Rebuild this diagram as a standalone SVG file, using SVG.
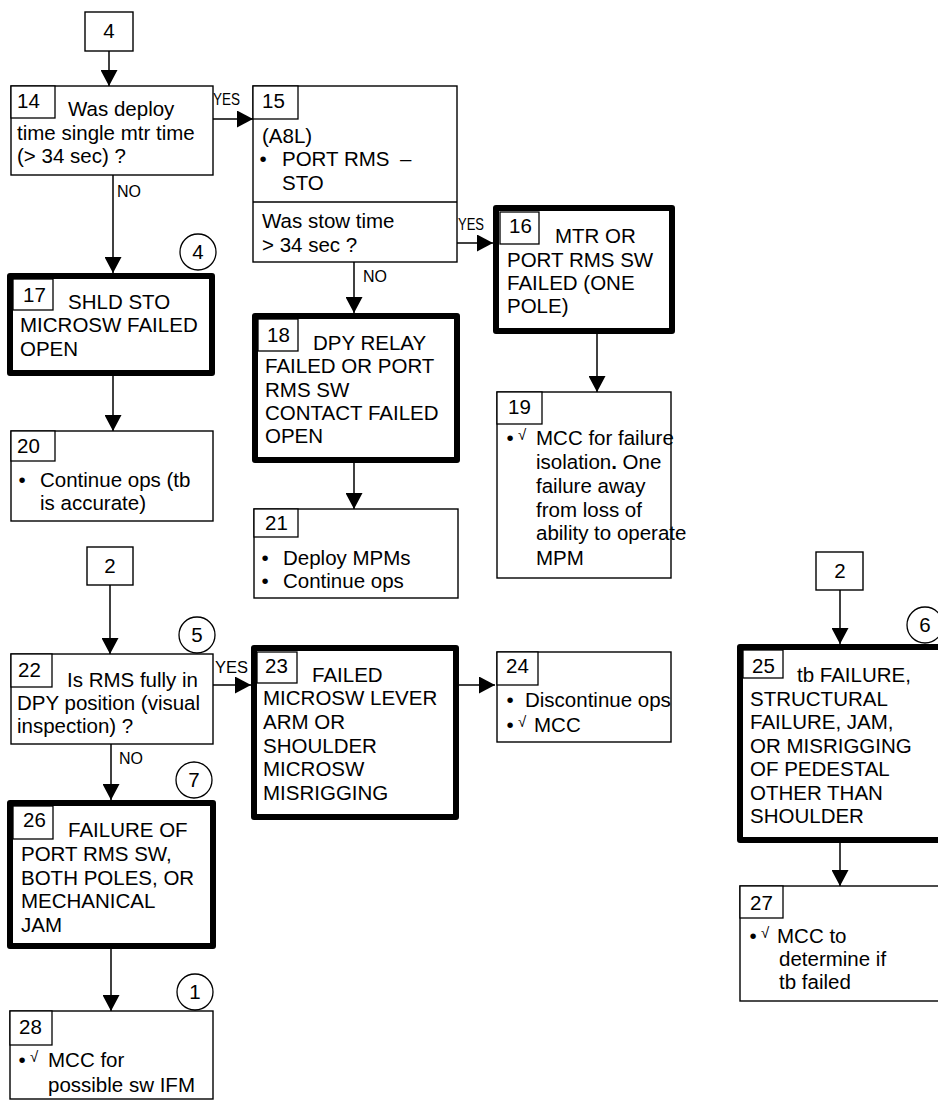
<svg xmlns="http://www.w3.org/2000/svg" width="938" height="1100" viewBox="0 0 938 1100">
<defs>
<marker id="ah" markerUnits="userSpaceOnUse" markerWidth="16" markerHeight="17" refX="16" refY="8.5" orient="auto">
<path d="M0,0 L16,8.5 L0,17 z" fill="#000"/>
</marker>
<style>
text{font-family:"Liberation Sans",Arial,sans-serif;font-size:20.5px;fill:#000}
.lbl{font-size:16px}
.chk{font-size:15px}
.thin{fill:#fff;stroke:#000;stroke-width:1.4}
.thick{fill:#fff;stroke:#000;stroke-width:6;stroke-linejoin:round}
.num{fill:#fff;stroke:#000;stroke-width:1.3}
.circ{fill:#fff;stroke:#000;stroke-width:1.3}
.con{stroke:#000;stroke-width:1.5;fill:none;marker-end:url(#ah)}
</style>
</defs>
<rect width="938" height="1100" fill="#fff"/>

<g id="connectors">
<line class="con" x1="109" y1="51" x2="109" y2="86"/>
<line class="con" x1="213" y1="119" x2="253" y2="119"/>
<line class="con" x1="113" y1="175" x2="113" y2="273"/>
<line class="con" x1="457" y1="243" x2="493" y2="243"/>
<line class="con" x1="354" y1="262" x2="354" y2="313"/>
<line class="con" x1="597" y1="334" x2="597" y2="392"/>
<line class="con" x1="113" y1="376" x2="113" y2="431"/>
<line class="con" x1="354" y1="463" x2="354" y2="509"/>
<line class="con" x1="110" y1="585" x2="110" y2="654"/>
<line class="con" x1="213" y1="685" x2="251" y2="685"/>
<line class="con" x1="459" y1="685" x2="495" y2="685"/>
<line class="con" x1="111" y1="744" x2="111" y2="800"/>
<line class="con" x1="111" y1="949" x2="111" y2="1011"/>
<line class="con" x1="840" y1="590" x2="840" y2="644"/>
<line class="con" x1="840" y1="843" x2="840" y2="886"/>
<text class="lbl" x="213" y="105" textLength="27" lengthAdjust="spacingAndGlyphs">YES</text>
<text class="lbl" x="117" y="197">NO</text>
<text class="lbl" x="458" y="230" textLength="26" lengthAdjust="spacingAndGlyphs">YES</text>
<text class="lbl" x="363" y="282">NO</text>
<text class="lbl" x="215" y="673" textLength="33" lengthAdjust="spacingAndGlyphs">YES</text>
<text class="lbl" x="119" y="764">NO</text>
</g>

<g id="ref4">
<rect class="thin" x="85" y="12" width="48" height="39"/>
<text x="109" y="38" text-anchor="middle">4</text>
</g>

<g id="n14">
<rect class="thin" x="11" y="86" width="202" height="89"/>
<rect class="num" x="11" y="86" width="44" height="32"/>
<text x="17" y="108">14</text>
<text x="68" y="116">Was deploy</text>
<text x="17" y="140">time single mtr time</text>
<text x="17" y="163">(&gt; 34 sec) ?</text>
</g>

<g id="n15">
<rect class="thin" x="253" y="86" width="204" height="176"/>
<line x1="253" y1="202" x2="457" y2="202" stroke="#000" stroke-width="1.4"/>
<rect class="num" x="253" y="86" width="45" height="33"/>
<text x="262" y="108">15</text>
<text x="262" y="143">(A8L)</text>
<text x="263" y="166" text-anchor="middle">•</text>
<text x="282" y="166">PORT RMS</text>
<text x="400" y="166">–</text>
<text x="282" y="190">STO</text>
<text x="262" y="228">Was stow time</text>
<text x="262" y="252">&gt; 34 sec ?</text>
</g>

<g id="n16">
<rect class="thick" x="496" y="208" width="176" height="123"/>
<rect class="num" x="500" y="212" width="39" height="32"/>
<text x="509" y="233">16</text>
<text x="555" y="243">MTR OR</text>
<text x="507" y="267">PORT RMS SW</text>
<text x="507" y="290">FAILED (ONE</text>
<text x="507" y="313">POLE)</text>
</g>

<g id="c4">
<circle class="circ" cx="198" cy="252" r="18"/>
<text x="198" y="259" text-anchor="middle">4</text>
</g>

<g id="n17">
<rect class="thick" x="10" y="276" width="202" height="97"/>
<rect class="num" x="13" y="279" width="40" height="31"/>
<text x="23" y="302">17</text>
<text x="68" y="309">SHLD STO</text>
<text x="20" y="332">MICROSW FAILED</text>
<text x="20" y="356">OPEN</text>
</g>

<g id="n18">
<rect class="thick" x="255" y="316" width="202" height="144"/>
<rect class="num" x="258" y="319" width="40" height="32"/>
<text x="267" y="342">18</text>
<text x="313" y="350">DPY RELAY</text>
<text x="265" y="373">FAILED OR PORT</text>
<text x="265" y="397">RMS SW</text>
<text x="265" y="420">CONTACT FAILED</text>
<text x="265" y="443">OPEN</text>
</g>

<g id="n19">
<rect class="thin" x="497" y="392" width="174" height="186"/>
<rect class="num" x="497" y="392" width="45" height="32"/>
<text x="508" y="414">19</text>
<text x="510" y="445" text-anchor="middle">•</text>
<text class="chk" x="518" y="440">√</text>
<text x="536" y="445">MCC for failure</text>
<text x="536" y="469">isolation<tspan font-weight="bold">.</tspan>  One</text>
<text x="536" y="493">failure away</text>
<text x="536" y="517">from loss of</text>
<text x="536" y="540">ability to operate</text>
<text x="536" y="565">MPM</text>
</g>

<g id="n20">
<rect class="thin" x="11" y="431" width="202" height="90"/>
<rect class="num" x="11" y="431" width="44" height="30"/>
<text x="17" y="453">20</text>
<text x="22" y="487" text-anchor="middle">•</text>
<text x="40" y="487">Continue ops (tb</text>
<text x="40" y="510">is accurate)</text>
</g>

<g id="n21">
<rect class="thin" x="254" y="509" width="204" height="89"/>
<rect class="num" x="254" y="509" width="44" height="28"/>
<text x="265" y="530">21</text>
<text x="265" y="565" text-anchor="middle">•</text>
<text x="283" y="565">Deploy MPMs</text>
<text x="265" y="588" text-anchor="middle">•</text>
<text x="283" y="588">Continue ops</text>
</g>

<g id="ref2a">
<rect class="thin" x="87" y="547" width="46" height="38"/>
<text x="110" y="573" text-anchor="middle">2</text>
</g>

<g id="c5">
<circle class="circ" cx="197" cy="635" r="18"/>
<text x="197" y="642" text-anchor="middle">5</text>
</g>

<g id="n22">
<rect class="thin" x="11" y="654" width="202" height="90"/>
<rect class="num" x="11" y="654" width="41" height="33"/>
<text x="18" y="677">22</text>
<text x="67" y="687">Is RMS fully in</text>
<text x="17" y="710">DPY position (visual</text>
<text x="17" y="733">inspection) ?</text>
</g>

<g id="n23">
<rect class="thick" x="254" y="648" width="202" height="169"/>
<rect class="num" x="257" y="652" width="40" height="31"/>
<text x="265" y="673">23</text>
<text x="312" y="682">FAILED</text>
<text x="263" y="705">MICROSW LEVER</text>
<text x="263" y="729">ARM OR</text>
<text x="263" y="753">SHOULDER</text>
<text x="263" y="776">MICROSW</text>
<text x="263" y="800">MISRIGGING</text>
</g>

<g id="n24">
<rect class="thin" x="497" y="652" width="174" height="90"/>
<rect class="num" x="497" y="652" width="41" height="33"/>
<text x="506" y="673">24</text>
<text x="510" y="707" text-anchor="middle">•</text>
<text x="525" y="707">Discontinue ops</text>
<text x="510" y="732" text-anchor="middle">•</text>
<text class="chk" x="518" y="727">√</text>
<text x="534" y="732">MCC</text>
</g>

<g id="ref2b">
<rect class="thin" x="816" y="552" width="47" height="38"/>
<text x="840" y="578" text-anchor="middle">2</text>
</g>

<g id="c6">
<circle class="circ" cx="925" cy="625" r="18"/>
<text x="925" y="632" text-anchor="middle">6</text>
</g>

<g id="n25">
<rect class="thick" x="740" y="647" width="202" height="193"/>
<rect class="num" x="743" y="650" width="40" height="28"/>
<text x="752" y="673">25</text>
<text x="797" y="682">tb FAILURE,</text>
<text x="750" y="706">STRUCTURAL</text>
<text x="750" y="729">FAILURE, JAM,</text>
<text x="750" y="753">OR MISRIGGING</text>
<text x="750" y="776">OF PEDESTAL</text>
<text x="750" y="800">OTHER THAN</text>
<text x="750" y="823">SHOULDER</text>
</g>

<g id="c7">
<circle class="circ" cx="194" cy="780" r="18"/>
<text x="194" y="787" text-anchor="middle">7</text>
</g>

<g id="n26">
<rect class="thick" x="10" y="803" width="203" height="143"/>
<rect class="num" x="13" y="806" width="40" height="33"/>
<text x="23" y="827">26</text>
<text x="68" y="837">FAILURE OF</text>
<text x="21" y="861">PORT RMS SW,</text>
<text x="21" y="885">BOTH POLES, OR</text>
<text x="21" y="908">MECHANICAL</text>
<text x="21" y="932">JAM</text>
</g>

<g id="n27">
<rect class="thin" x="740" y="886" width="202" height="115"/>
<rect class="num" x="740" y="886" width="43" height="32"/>
<text x="750" y="910">27</text>
<text x="753" y="943" text-anchor="middle">•</text>
<text class="chk" x="761" y="938">√</text>
<text x="777" y="943">MCC to</text>
<text x="779" y="966">determine if</text>
<text x="779" y="989">tb failed</text>
</g>

<g id="c1">
<circle class="circ" cx="195" cy="992" r="18"/>
<text x="195" y="999" text-anchor="middle">1</text>
</g>

<g id="n28">
<rect class="thin" x="10" y="1011" width="203" height="88"/>
<rect class="num" x="10" y="1011" width="42" height="34"/>
<text x="19" y="1034">28</text>
<text x="22" y="1067" text-anchor="middle">•</text>
<text class="chk" x="30" y="1062">√</text>
<text x="48" y="1067">MCC for</text>
<text x="48" y="1092">possible sw IFM</text>
</g>
</svg>
